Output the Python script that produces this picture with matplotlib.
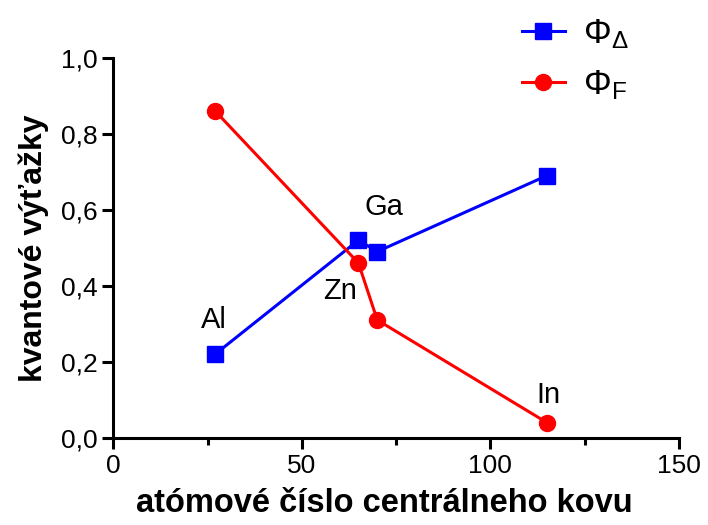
import numpy as np
import matplotlib
matplotlib.use("Agg")
import matplotlib.pyplot as plt
from matplotlib.ticker import MultipleLocator, FuncFormatter

plt.rcParams['font.family'] = ['Liberation Sans', 'DejaVu Sans']
plt.rcParams['mathtext.fontset'] = 'custom'
plt.rcParams['mathtext.rm'] = 'Liberation Sans'
plt.rcParams['mathtext.it'] = 'Liberation Sans'

# data
kovy = ["Al", "Zn", "Ga", "In"]
x_kov = [27, 65, 70, 115]
phi_delta = [0.22, 0.52, 0.49, 0.69]
phi_f = [0.86, 0.46, 0.31, 0.04]

# which series each label sits next to, and its offset in points
label_on = ["delta", "f", "delta", "f"]
label_off = [(-1, 25), (-13, -20), (5, 32), (1, 20)]

fig = plt.figure(figsize=(7.08, 5.25), dpi=100)
ax = fig.add_axes([0.16, 0.166, 0.799, 0.724])

lw = 2.2
ax.plot(x_kov, phi_delta, color='#0000ff', lw=lw, marker='s', ms=11.5,
        label=r'$\mathrm{\Phi}_{\mathrm{\Delta}}$', clip_on=False)
ax.plot(x_kov, phi_f, color='#ff0000', lw=lw, marker='o', ms=11.5,
        label=r'$\mathrm{\Phi}_{\mathrm{F}}$', clip_on=False)

for i, name in enumerate(kovy):
    yv = phi_delta[i] if label_on[i] == "delta" else phi_f[i]
    ax.annotate(name, (x_kov[i], yv), xytext=label_off[i], textcoords='offset points',
                ha='center', va='center', fontsize=21)

ax.set_xlim(0, 150)
ax.set_ylim(0, 1.0)
ax.xaxis.set_major_locator(MultipleLocator(50))
ax.xaxis.set_minor_locator(MultipleLocator(25))
ax.yaxis.set_major_locator(MultipleLocator(0.2))
ax.yaxis.set_major_formatter(FuncFormatter(lambda v, p: f"{v:.1f}".replace('.', ',')))

for s in ['top', 'right']:
    ax.spines[s].set_visible(False)
for s in ['left', 'bottom']:
    ax.spines[s].set_linewidth(2.2)
ax.tick_params(which='major', length=8, width=2.2, labelsize=19, direction='out')
ax.tick_params(which='minor', length=5, width=2.2)

ax.set_xlabel("atómové číslo centrálneho kovu", fontsize=23.5, fontweight='bold')
ax.xaxis.set_label_coords(0.479, -0.132)
ax.set_ylabel("kvantové výťažky", fontsize=23, fontweight='bold', labelpad=8)

ax.legend(loc='upper left', bbox_to_anchor=(0.737, 0.968), bbox_transform=fig.transFigure,
          frameon=False, fontsize=25, handlelength=1.25, labelspacing=0.5,
          handletextpad=0.5, borderpad=0, borderaxespad=0)

fig.savefig("out.png", dpi=100)
